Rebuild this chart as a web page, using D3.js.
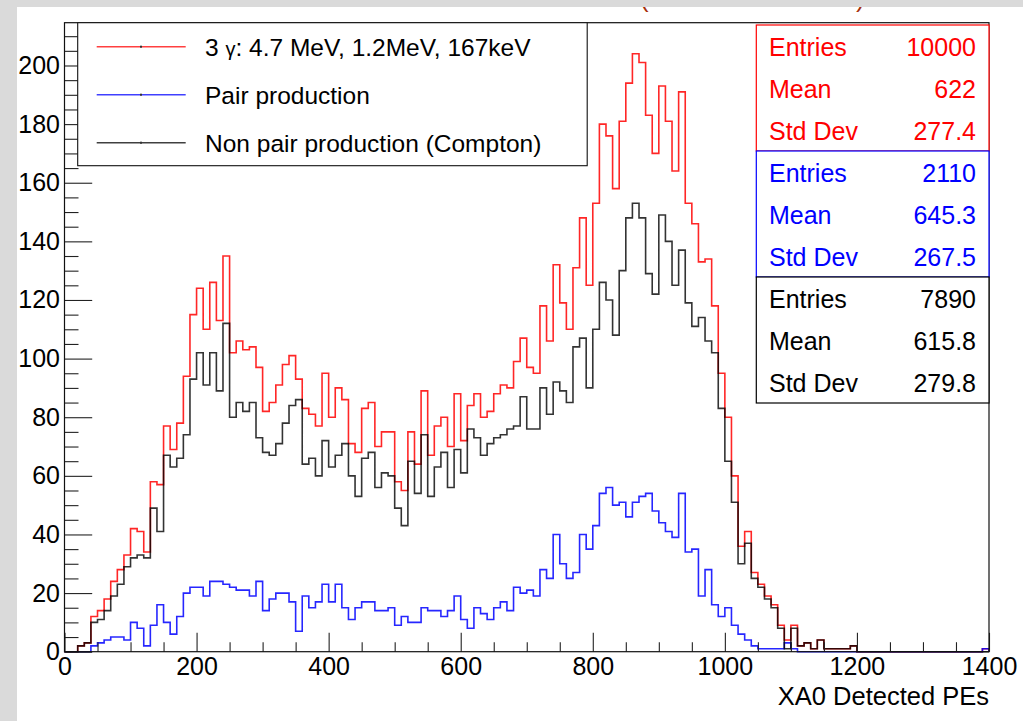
<!DOCTYPE html>
<html>
<head>
<meta charset="utf-8">
<script src="https://cdn.jsdelivr.net/npm/d3@7"></script>
<style>
    body { margin: 0; padding: 0; background: #ffffff; }
    #chart-area { width: 1023px; height: 721px; }
    text { font-family: "Liberation Sans", Arial, Helvetica, sans-serif; }
</style>
</head>
<body>
<div id="chart-area"></div>
<script>
// XA0 detected PEs, 140 bins of 10 PEs from 0 to 1400
const binWidth = 10;
const nBins = 140;

// 3 gamma total (red)
const totalCounts = [
    0, 0, 2, 3, 12, 14, 18, 24, 28, 33,
    42, 41, 34, 58, 57, 77, 69, 78, 94, 115,
    124, 110, 126, 113, 135, 102, 106, 103, 104, 97,
    82, 85, 91, 98, 101, 93, 83, 81, 77, 95,
    80, 90, 86, 71, 68, 83, 85, 70, 75, 75,
    58, 55, 75, 64, 89, 67, 77, 80, 70, 88,
    72, 84, 88, 80, 82, 88, 91, 90, 99, 107,
    97, 95, 118, 106, 132, 119, 110, 131, 148, 125,
    153, 180, 176, 158, 181, 194, 204, 201, 183, 170,
    193, 181, 164, 191, 153, 146, 133, 134, 118, 95,
    80, 60, 36, 41, 27, 23, 19, 16, 9, 4,
    9, 2, 3, 1, 4, 1, 1, 1, 1, 2,
    0, 0, 0, 0, 0, 0, 0, 0, 0, 0,
    0, 0, 0, 0, 0, 0, 0, 0, 0, 1
];

// pair production (blue)
const pairCounts = [
    0, 0, 0, 0, 2, 3, 4, 5, 5, 4,
    10, 8, 2, 9, 16, 10, 6, 12, 20, 22,
    22, 19, 24, 24, 23, 22, 21, 21, 19, 24,
    14, 18, 20, 20, 17, 7, 19, 15, 17, 23,
    17, 23, 15, 11, 15, 17, 17, 14, 14, 15,
    9, 12, 10, 10, 15, 14, 14, 12, 14, 19,
    11, 8, 15, 13, 11, 15, 17, 14, 22, 20,
    21, 19, 28, 25, 40, 30, 25, 27, 40, 35,
    43, 54, 56, 50, 51, 46, 51, 53, 54, 48,
    44, 41, 39, 54, 34, 35, 19, 28, 16, 12,
    15, 9, 6, 4, 2, 1, 1, 1, 1, 3,
    1, 0, 0, 0, 0, 0, 0, 0, 0, 0,
    0, 0, 0, 0, 0, 0, 0, 0, 0, 0,
    0, 0, 0, 0, 0, 0, 0, 0, 0, 1
];

// non pair production, compton (black)
const comptonCounts = [
    0, 0, 2, 3, 10, 11, 14, 19, 23, 29,
    32, 33, 32, 49, 41, 67, 63, 66, 74, 93,
    102, 91, 102, 89, 112, 80, 85, 82, 85, 73,
    68, 67, 71, 78, 84, 86, 64, 66, 60, 72,
    63, 67, 71, 60, 53, 66, 68, 56, 61, 60,
    49, 43, 65, 54, 74, 53, 63, 68, 56, 69,
    61, 76, 73, 67, 71, 73, 74, 76, 77, 87,
    76, 76, 90, 81, 92, 89, 85, 104, 107, 90,
    110, 126, 120, 108, 130, 148, 153, 148, 129, 122,
    149, 140, 125, 137, 119, 111, 114, 106, 102, 83,
    65, 51, 30, 37, 25, 22, 18, 15, 8, 1,
    8, 2, 3, 1, 4, 1, 1, 1, 1, 2,
    0, 0, 0, 0, 0, 0, 0, 0, 0, 0,
    0, 0, 0, 0, 0, 0, 0, 0, 0, 0
];

const xTicks = [0, 200, 400, 600, 800, 1000, 1200, 1400];
const yTicks = [0, 20, 40, 60, 80, 100, 120, 140, 160, 180, 200];

const legendLabels = ["3 γ: 4.7 MeV, 1.2MeV, 167keV", "Pair production", "Non pair production (Compton)"];
const statLabels = ["Entries", "Mean", "Std Dev"];
const totalStats = ["10000", "622", "277.4"];
const pairStats = ["2110", "645.3", "267.5"];
const comptonStats = ["7890", "615.8", "279.8"];


class HistVis {
    constructor(parentElement) {
        this.parentElement = parentElement;
        this.series = [
            {name: legendLabels[0], counts: totalCounts, color: "#ff0000", stats: totalStats},
            {name: legendLabels[1], counts: pairCounts, color: "#0000ff", stats: pairStats},
            {name: legendLabels[2], counts: comptonCounts, color: "#000000", stats: comptonStats}
        ];
        this.initVis();
    }

    initVis() {
        let vis = this;
        vis.width = 1023;
        vis.height = 721;
        vis.frame = {left: 64.5, right: 989, top: 22.7, bottom: 651.7};

        vis.svg = d3.select("#" + vis.parentElement).append("svg")
            .attr("width", vis.width)
            .attr("height", vis.height);

        // gray window border, white canvas
        vis.svg.append("rect")
            .attr("width", vis.width)
            .attr("height", vis.height)
            .attr("fill", "#dadada");
        vis.svg.append("rect")
            .attr("x", 17)
            .attr("y", 7)
            .attr("width", vis.width - 17)
            .attr("height", vis.height - 7)
            .attr("fill", "#ffffff");

        // title is cut by the window, only the bottom of the brackets shows
        vis.svg.append("clipPath").attr("id", "canvasClip")
            .append("rect")
            .attr("x", 17).attr("y", 7)
            .attr("width", vis.width - 17).attr("height", vis.height - 7);
        let title = vis.svg.append("g").attr("clip-path", "url(#canvasClip)");
        title.append("text").attr("x", 640).attr("y", 7).text("(")
            .attr("fill", "#a8300c").style("font-size", "26px");
        title.append("text").attr("x", 856).attr("y", 7).text(")")
            .attr("fill", "#a8300c").style("font-size", "26px");

        vis.x = d3.scaleLinear()
            .domain([0, binWidth * nBins])
            .range([vis.frame.left, vis.frame.right]);

        vis.y = d3.scaleLinear()
            .domain([0, 214.6])
            .range([vis.frame.bottom, vis.frame.top]);

        vis.line = d3.line()
            .x(d => vis.x(d[0]))
            .y(d => vis.y(d[1]));

        vis.updateVis();
    }

    stepPoints(counts) {
        let pts = [[0, 0]];
        counts.forEach((c, i) => {
            pts.push([i * binWidth, c]);
            pts.push([(i + 1) * binWidth, c]);
        });
        pts.push([counts.length * binWidth, 0]);
        return pts;
    }

    updateVis() {
        let vis = this;
        let f = vis.frame;

        // histograms: total first, then pair, compton on top
        vis.svg.append("g")
            .attr("class", "hists")
            .selectAll("path")
            .data(vis.series)
            .enter().append("path")
            .attr("d", d => vis.line(vis.stepPoints(d.counts)))
            .attr("fill", "none")
            .attr("stroke", d => d.color)
            .attr("stroke-opacity", d => d.color == "#000000" ? 0.8 : 0.85)
            .attr("stroke-width", 1.6);

        // minor ticks
        let yMinor = d3.range(0, 215, 5).filter(v => v % 20 != 0);
        let xMinor = d3.range(0, 1401, 50).filter(v => v % 200 != 0);

        vis.svg.append("g")
            .attr("class", "axis y-minor")
            .attr("transform", `translate(${f.left}, 0)`)
            .call(d3.axisLeft(vis.y).tickValues(yMinor).tickSize(-14).tickFormat(""));

        vis.svg.append("g")
            .attr("class", "axis x-minor")
            .attr("transform", `translate(0, ${f.bottom})`)
            .call(d3.axisBottom(vis.x).tickValues(xMinor).tickSize(-9.5).tickFormat(""));

        vis.svg.append("g")
            .attr("class", "axis y-axis")
            .attr("transform", `translate(${f.left}, 0)`)
            .call(d3.axisLeft(vis.y).tickValues(yTicks).tickSize(-27.7).tickPadding(4.5).tickFormat(d3.format("d")));

        vis.svg.append("g")
            .attr("class", "axis x-axis")
            .attr("transform", `translate(0, ${f.bottom})`)
            .call(d3.axisBottom(vis.x).tickValues(xTicks).tickSize(-18.9).tickPadding(5.5).tickFormat(d3.format("d")));

        vis.svg.selectAll(".axis .domain").remove();
        vis.svg.selectAll(".axis line")
            .attr("stroke", "#222")
            .attr("stroke-width", 1.1);
        vis.svg.selectAll(".axis text")
            .attr("fill", "#000")
            .style("font-size", "25px")
            .style("font-family", "'Liberation Sans', Arial, sans-serif");

        // frame
        vis.svg.append("rect")
            .attr("x", f.left)
            .attr("y", f.top)
            .attr("width", f.right - f.left)
            .attr("height", f.bottom - f.top)
            .attr("fill", "none")
            .attr("stroke", "#111")
            .attr("stroke-width", 1.2);

        // x axis title
        vis.svg.append("text")
            .attr("x", f.right)
            .attr("y", 705)
            .attr("text-anchor", "end")
            .style("font-size", "25.5px")
            .text("XA0 Detected PEs");

        // legend
        let legend = vis.svg.append("g").attr("class", "legend");
        legend.append("rect")
            .attr("x", 77.7)
            .attr("y", f.top)
            .attr("width", 509.5)
            .attr("height", 143)
            .attr("fill", "#fff")
            .attr("stroke", "#111")
            .attr("stroke-width", 1.1);

        let rows = legend.selectAll(".legend-row")
            .data(vis.series)
            .enter().append("g")
            .attr("class", "legend-row")
            .attr("transform", (d, i) => `translate(0, ${46.7 + i * 48})`);

        rows.append("line")
            .attr("x1", 96.7).attr("x2", 185.7)
            .attr("stroke", d => d.color)
            .attr("stroke-opacity", 0.75)
            .attr("stroke-width", 1.5);
        rows.append("rect")
            .attr("x", 140).attr("y", -1)
            .attr("width", 2).attr("height", 2)
            .attr("fill", "#333");

        // the gamma comes from the symbol font in the original, a bit smaller
        rows.append("text")
            .attr("x", 205)
            .attr("y", 9)
            .style("font-size", "24.5px")
            .each(function (d) {
                let t = d3.select(this);
                let parts = d.name.split("γ");
                t.append("tspan").text(parts[0]);
                if (parts.length > 1) {
                    t.append("tspan").style("font-size", "20px").text("γ");
                    t.append("tspan").text(parts[1]);
                }
            });

        // stat boxes
        let boxH = 126;
        let boxes = vis.svg.selectAll(".stats")
            .data(vis.series)
            .enter().append("g")
            .attr("class", "stats")
            .attr("transform", (d, i) => `translate(756.3, ${25 + i * boxH})`);

        boxes.append("rect")
            .attr("width", f.right - 756.3)
            .attr("height", boxH)
            .attr("fill", "#fff")
            .attr("stroke", d => d.color)
            .attr("stroke-width", 1.2);

        boxes.each(function (d) {
            let g = d3.select(this);
            statLabels.forEach((lab, j) => {
                g.append("text")
                    .attr("x", 12.7)
                    .attr("y", 31 + j * 42)
                    .attr("fill", d.color)
                    .style("font-size", "25px")
                    .text(lab);
                g.append("text")
                    .attr("x", 219.7)
                    .attr("y", 31 + j * 42)
                    .attr("text-anchor", "end")
                    .attr("fill", d.color)
                    .style("font-size", "25px")
                    .text(d.stats[j]);
            });
        });
    }
}

new HistVis("chart-area");
</script>
</body>
</html>
